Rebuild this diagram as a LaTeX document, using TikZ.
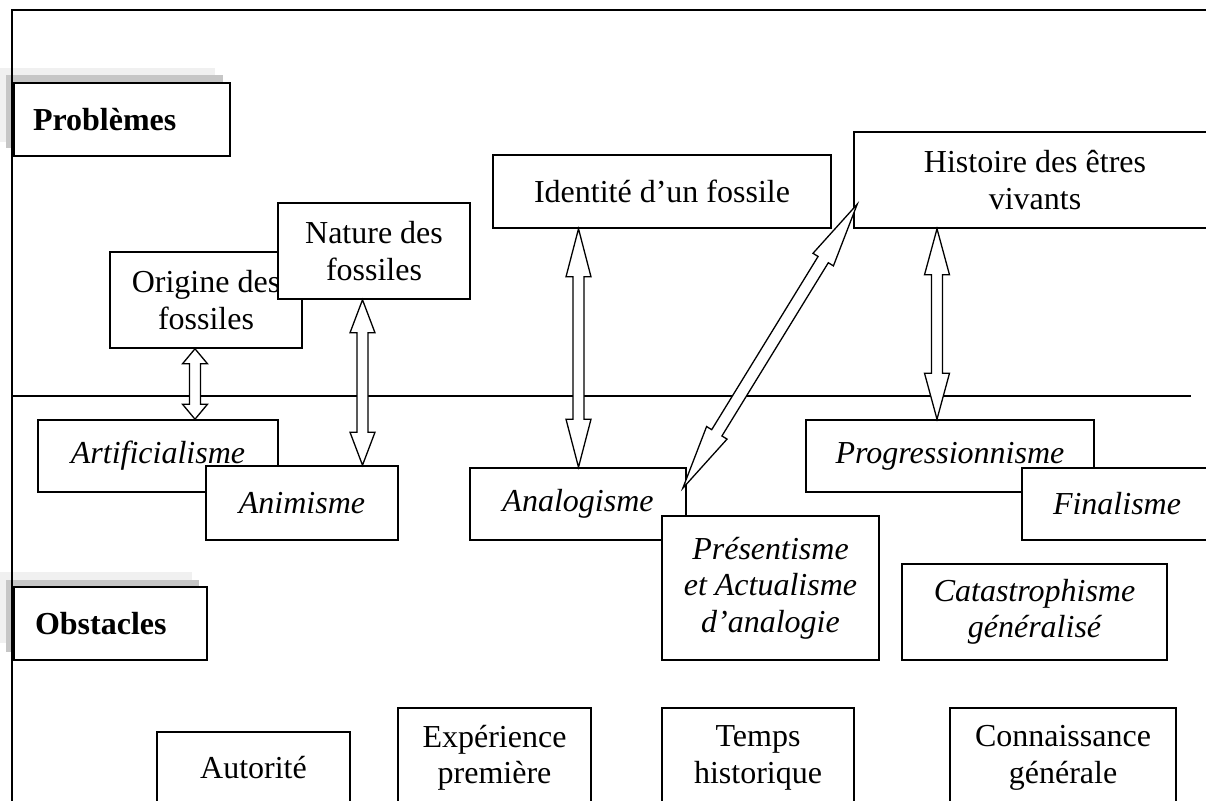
\documentclass[tikz,border=0pt]{standalone}
\usepackage{fontspec}
\setmainfont{Liberation Serif}
\usetikzlibrary{calc}
\tikzset{
  box/.style={draw, line width=1.6pt, fill=white, inner sep=0pt, align=center,
    font=\fontsize{32}{36.5}\selectfont},
  ibox/.style={box, font=\fontsize{32}{36.5}\selectfont\itshape},
  hdr/.style={box, align=left, font=\fontsize{32}{36.5}\selectfont\bfseries},
  arrowline/.style={draw, line width=1.3pt, fill=white, line join=miter},
  lightshade/.style={fill=gray!12},
  darkshade/.style={fill=gray!45},
}
\newcommand\blockarrow[5]{%
  \path (#1) coordinate (ba-a) (#2) coordinate (ba-b);
  \path ($(ba-a)!#3!(ba-b)$) coordinate (ba-p) ($(ba-b)!#3!(ba-a)$) coordinate (ba-q);
  \draw[arrowline] (ba-a) -- ($(ba-p)!#4!90:(ba-b)$) -- ($(ba-p)!#5!90:(ba-b)$)
    -- ($(ba-q)!#5!-90:(ba-a)$) -- ($(ba-q)!#4!-90:(ba-a)$) -- (ba-b)
    -- ($(ba-q)!#4!90:(ba-a)$) -- ($(ba-q)!#5!90:(ba-a)$)
    -- ($(ba-p)!#5!-90:(ba-b)$) -- ($(ba-p)!#4!-90:(ba-b)$) -- cycle;
}
\begin{document}
\begin{tikzpicture}[x=1pt,y=-1pt]
\clip (0,0) rectangle (1206,800);
\fill[white] (0,0) rectangle (1206,800);
% shadows
\fill[lightshade] (0,68) rectangle (215,142);
\fill[darkshade] (6,75) rectangle (223,148);
\fill[lightshade] (0,572) rectangle (192,643);
\fill[darkshade] (6,580) rectangle (199,652);
% frame
\draw[line width=2.2pt] (1210,10) -- (12,10) -- (12,810);
% divider
\draw[line width=1.3pt] (12,396) -- (1191,396);
% headers
\node[hdr, minimum width=216pt, minimum height=73pt, text width=178pt] (prob) at (122,119.5) {Problèmes};
\node[hdr, minimum width=193pt, minimum height=73pt, text width=151pt] (obst) at (110.5,623.5) {Obstacles};
% problems
\node[box, minimum width=192pt, minimum height=96pt] (orig) at (206,300) {Origine des\\fossiles};
\node[box, minimum width=192pt, minimum height=96pt] (nat) at (374,251) {Nature des\\fossiles};
\node[box, minimum width=338pt, minimum height=73pt] (ident) at (662,191.5) {Identité d’un fossile};
\node[box, minimum width=362pt, minimum height=96pt] (hist) at (1035,180) {Histoire des êtres\\vivants};
% obstacles (italic)
\node[ibox, minimum width=240pt, minimum height=72pt] (artif) at (158,456) {Artificialisme};
\node[ibox, minimum width=192pt, minimum height=74pt] (anim) at (302,503) {Animisme};
\node[ibox, minimum width=216pt, minimum height=72pt] (analog) at (578,504) {Analogisme};
\node[ibox, minimum width=288pt, minimum height=72pt] (progr) at (950,456) {Progressionnisme};
\node[ibox, minimum width=190pt, minimum height=72pt] (final) at (1117,504) {Finalisme};
\node[ibox, minimum width=217pt, minimum height=144pt] (pres) at (770.5,588) {Présentisme\\et Actualisme\\d’analogie};
\node[ibox, minimum width=265pt, minimum height=96pt] (catas) at (1034.5,612) {Catastrophisme\\généralisé};
% bottom row
\node[box, minimum width=193pt, minimum height=72pt] (autor) at (253.5,768) {Autorité};
\node[box, minimum width=193pt, minimum height=100pt] (exper) at (494.5,758) {Expérience\\première};
\node[box, minimum width=192pt, minimum height=100pt] (temps) at (758,758) {Temps\\historique};
\node[box, minimum width=226pt, minimum height=100pt] (conn) at (1063,758) {Connaissance\\générale};
% arrows
\coordinate (x1) at (195,0);
\coordinate (x2) at (362.5,0);
\coordinate (x3) at (578.5,0);
\coordinate (x4) at (937,0);
\blockarrow{orig.south -| x1}{artif.north -| x1}{15pt}{12.5pt}{5.5pt}
\blockarrow{nat.south -| x2}{anim.north -| x2}{33pt}{12.5pt}{5.5pt}
\blockarrow{ident.south -| x3}{analog.north -| x3}{48pt}{12.5pt}{5.5pt}
\blockarrow{hist.south -| x4}{progr.north -| x4}{46pt}{12.5pt}{5.5pt}
\blockarrow{$(analog.north east)+(-4,21)$}{$(hist.north west)+(4,73)$}{65pt}{12pt}{6pt}
\end{tikzpicture}
\end{document}
